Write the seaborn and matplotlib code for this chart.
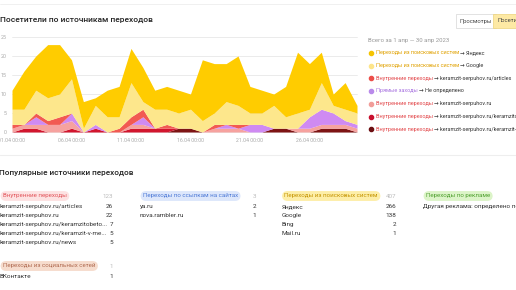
import matplotlib
matplotlib.use("Agg")
import matplotlib.pyplot as plt
import seaborn as sns
import numpy as np

# ---------------- data ----------------
days = list(range(1, 31))
# stacked series, bottom -> top
dark_red = [0, 0, 0, 0, 0, 0, 0, 0, 0, 0, 0, 0, 0, 0, 1, 1, 0, 0, 0, 0, 0, 0, 1, 1, 0, 0, 1, 1, 1, 0]   # keramzit-v-meshkah
crimson  = [0, 1, 1, 0, 0, 1, 0, 1, 0, 0, 1, 1, 1, 1, 0, 0, 0, 0, 0, 0, 0, 0, 0, 0, 0, 0, 0, 0, 0, 0]   # keramzitobeton
salmon   = [1, 1, 1, 2, 2, 2, 0, 0, 0, 0, 1, 1, 0, 0, 0, 0, 0, 1, 1, 1, 0, 0, 0, 0, 1, 1, 1, 1, 1, 1]   # keramzit-serpuhov.ru
purple   = [0, 0, 2, 0, 0, 2, 0, 1, 0, 0, 0, 2, 0, 0, 0, 0, 0, 0, 1, 0, 2, 2, 0, 0, 0, 3, 4, 3, 1, 1]   # direct
articles = [1, 0, 1, 1, 2, 0, 0, 0, 0, 1, 2, 2, 0, 1, 0, 0, 0, 1, 0, 1, 0, 0, 0, 0, 0, 0, 0, 0, 0, 0]   # /articles
google   = [4, 4, 6, 6, 6, 9, 1, 5, 4, 3, 9, 2, 5, 4, 4, 5, 3, 3, 6, 5, 3, 3, 6, 3, 4, 2, 7, 2, 3, 3]
yandex   = [5, 10, 9, 14, 13, 5, 7, 2, 7, 8, 9, 9, 5, 6, 6, 4, 16, 13, 10, 13, 7, 6, 3, 8, 16, 12, 8, 3, 7, 2]

series_bottom_up = [dark_red, crimson, salmon, purple, articles, google, yandex]
series_colors = ["#7e1414", "#d2162e", "#f6a29f", "#cf8af2", "#f25a52", "#fde78c", "#ffcc00"]

xtick_days = [1, 6, 11, 16, 21, 26]
xtick_labels = ["01.04 00:00", "06.04 00:00", "11.04 00:00", "16.04 00:00", "21.04 00:00", "26.04 00:00"]
yticks = [0, 5, 10, 15, 20, 25]

legend_cats = ["Переходы из поисковых систем", "Переходы из поисковых систем",
               "Внутренние переходы", "Прямые заходы", "Внутренние переходы",
               "Внутренние переходы", "Внутренние переходы"]
legend_targets = ["Яндекс", "Google", "keramzit-serpuhov.ru/articles", "Не определено",
                  "keramzit-serpuhov.ru", "keramzit-serpuhov.ru/keramzitobeton",
                  "keramzit-serpuhov.ru/keramzit-v-meshkah"]
legend_dot_colors = ["#f5c400", "#fde58a", "#ec4f4a", "#b98aea", "#f19d99", "#c8102e", "#6c0f12"]
legend_cat_colors = ["#e0a100", "#e0a100", "#e2474a", "#a873e0", "#e2474a", "#e2474a", "#e2474a"]

internal_names = ["keramzit-serpuhov.ru/articles", "keramzit-serpuhov.ru",
                  "keramzit-serpuhov.ru/keramzitobeto...", "keramzit-serpuhov.ru/keramzit-v-me...",
                  "keramzit-serpuhov.ru/news"]
internal_vals = [26, 22, 7, 5, 5]
social_names = ["ВКонтакте"]
social_vals = [1]
links_names = ["ya.ru", "nova.rambler.ru"]
links_vals = [2, 1]
search_names = ["Яндекс", "Google", "Bing", "Mail.ru"]
search_vals = [266, 138, 2, 1]
ads_names = ["Другая реклама: определено по меткам"]
ads_vals = [1]

# ---------------- style ----------------
sns.set_theme(style="white")
plt.rcParams["font.family"] = ["Roboto", "DejaVu Sans"]

W, H = 516, 290
fig = plt.figure(figsize=(W / 100, H / 100), dpi=100)
fig.patch.set_facecolor("white")


def fx(x):
    return x / W


def fy(y):
    return 1 - y / H


def put(x, y, s, **kw):
    kw.setdefault("va", "center")
    kw.setdefault("ha", "left")
    return fig.text(fx(x), fy(y), s, **kw)


# ---------------- chart ----------------
ax_left, ax_right, ax_top, ax_bot = 12, 357, 37, 132
ax = fig.add_axes([fx(ax_left), fy(ax_bot), (ax_right - ax_left) / W, (ax_bot - ax_top) / H])
ax.set_facecolor("none")
pal = sns.color_palette(series_colors)
ax.stackplot(days, *series_bottom_up, colors=pal, linewidth=0, zorder=2)
ax.set_xlim(1, 30)
ax.set_ylim(0, 25)
for v in yticks:
    ax.axhline(v, color="#e8e8e8", lw=0.6, zorder=1, clip_on=False)
ax.set_yticks(yticks)
ax.set_yticklabels([str(v) for v in yticks], fontsize=3.9, color="#aaaaaa")
ax.set_xticks(xtick_days)
ax.set_xticklabels(xtick_labels, fontsize=3.7, color="#aaaaaa")
ax.tick_params(axis="both", length=0, pad=4)
ax.tick_params(axis="y", pad=4)
for sp in ax.spines.values():
    sp.set_visible(False)
ax.grid(False)

# ---------------- header ----------------
fig.add_artist(plt.Line2D([0, 1], [fy(4), fy(4)], color="#eeeeee", lw=0.6))
fig.add_artist(plt.Line2D([0, 1], [fy(155), fy(155)], color="#eeeeee", lw=0.8))
put(0, 20, "Посетители по источникам переходов", fontsize=6.0, color="#222222", weight="medium")

# buttons
put(476, 21, "Просмотры", fontsize=4.2, color="#444444", ha="center",
    bbox=dict(boxstyle="square,pad=0.7", fc="white", ec="#d6d6d6", lw=0.5))
put(497.5, 21, "Посетители", fontsize=4.2, color="#444444", ha="left",
    bbox=dict(boxstyle="square,pad=0.7", fc="#fde9a4", ec="#ecd27a", lw=0.5))

# ---------------- legend ----------------
put(368, 40.7, "Всего за 1 апр — 30 апр 2023", fontsize=4.3, color="#999999")
fig.canvas.draw()
renderer = fig.canvas.get_renderer()
leg_y = [52.7, 65.7, 78.3, 90.7, 103.7, 116.7, 129.0]
for i, yy in enumerate(leg_y):
    fig.add_artist(plt.Line2D([fx(370.5)], [fy(yy)], marker="o", ms=3.0, color=legend_dot_colors[i], lw=0))
    t1 = put(375.5, yy, legend_cats[i], fontsize=4.0, color=legend_cat_colors[i])
    bb = t1.get_window_extent(renderer=renderer)
    put(bb.x1 + 1.5, yy, "→ " + legend_targets[i], fontsize=4.0, color="#333333")

# ---------------- popular sources ----------------
put(-1, 173, "Популярные источники переходов", fontsize=5.9, color="#222222", weight="medium")


def block(x0, x_num, y_pill, title, total, fc, tc, names, vals, step=9.0):
    put(x0 + 3, y_pill, title, fontsize=4.4, color=tc,
        bbox=dict(boxstyle="round,pad=0.4,rounding_size=0.9", fc=fc, ec="none"))
    if total is not None:
        put(x_num, y_pill, str(total), fontsize=4.5, color="#bbbbbb", ha="right")
    for j, (n, v) in enumerate(zip(names, vals)):
        yy = y_pill + 10.2 + j * step
        put(x0, yy, n, fontsize=4.6, color="#333333")
        if x_num is not None:
            put(x_num, yy, str(v), fontsize=4.6, color="#333333", ha="right")


block(0, 113, 196, "Внутренние переходы", 123, "#fde2e2", "#e2545a", internal_names, internal_vals)
block(0, 113, 266, "Переходы из социальных сетей", 1, "#f6dccd", "#b06a50", social_names, social_vals)
block(140, 256, 196, "Переходы по ссылкам на сайтах", 3, "#dde7fb", "#4b78d6", links_names, links_vals)
block(281.5, 396, 196, "Переходы из поисковых систем", 407, "#fdeea8", "#c49300", search_names, search_vals)
block(423, None, 196, "Переходы по рекламе", None, "#dcf4c8", "#4e9f2e", ads_names, ads_vals)

fig.savefig("out.png", dpi=100)
